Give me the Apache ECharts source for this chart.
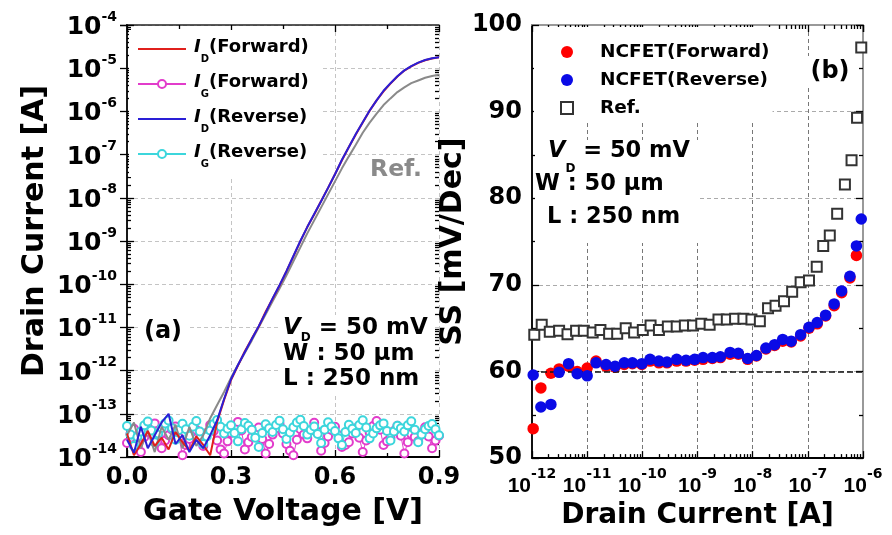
<!DOCTYPE html>
<html><head><meta charset="utf-8">
<script src="https://cdn.jsdelivr.net/npm/echarts@6/dist/echarts.min.js"></script>
<style>html,body{margin:0;padding:0;background:#fff}#c{width:892px;height:535px}</style>
</head><body><div id="c"></div>
<script>
// ---------- Panel (a) data ----------
const gateVoltage = [0.00,0.02,0.04,0.06,0.08,0.10,0.12,0.14,0.16,0.18,0.20,0.22,0.24,0.26,0.28,0.30,0.32,0.34,0.36,0.38,0.40,0.42,0.44,0.46,0.48,0.50,0.52,0.54,0.56,0.58,0.60,0.62,0.64,0.66,0.68,0.70,0.72,0.74,0.76,0.78,0.80,0.82,0.84,0.86,0.88,0.90];
const idForward = [3.5e-14,1.1e-14,2.0e-14,4.0e-14,1.8e-14,2.8e-14,1.5e-14,3.8e-14,2.2e-14,1.4e-14,3.0e-14,1.9e-14,1.1e-14,6.5e-14,2.1e-13,6.0e-13,1.3e-12,2.8e-12,5.5e-12,1.05e-11,2.3e-11,4.6e-11,9.3e-11,2.0e-10,4.4e-10,9.8e-10,2.1e-9,4.1e-9,8.4e-9,1.7e-8,3.5e-8,7.4e-8,1.5e-7,2.9e-7,5.5e-7,1.04e-6,1.8e-6,2.9e-6,4.4e-6,6.4e-6,8.8e-6,1.1e-5,1.33e-5,1.53e-5,1.68e-5,1.8e-5];
const idReverse = [2.5e-14,1.26e-14,5.0e-14,1.6e-14,3.2e-14,6.3e-14,1.0e-13,2.0e-14,3.2e-14,1.3e-14,2.5e-14,1.6e-14,3.2e-14,7.1e-14,2.2e-13,6.3e-13,1.35e-12,2.7e-12,5.4e-12,1.07e-11,2.2e-11,4.7e-11,9.5e-11,2.0e-10,4.5e-10,1.0e-9,2.1e-9,4.2e-9,8.3e-9,1.7e-8,3.5e-8,7.6e-8,1.5e-7,3.0e-7,5.6e-7,1.05e-6,1.8e-6,3.0e-6,4.5e-6,6.5e-6,8.9e-6,1.12e-5,1.35e-5,1.55e-5,1.7e-5,1.8e-5];
const idRef = [3.2e-14,6.3e-14,1.6e-14,4.0e-14,1.3e-14,5.0e-14,2.5e-14,5.6e-14,1.6e-14,5.0e-14,1.8e-14,3.2e-14,7.9e-14,1.6e-13,3.2e-13,6.8e-13,1.35e-12,2.6e-12,5.0e-12,1.0e-11,2.0e-11,4.0e-11,7.9e-11,1.6e-10,3.4e-10,7.1e-10,1.5e-9,3.0e-9,6.0e-9,1.2e-8,2.4e-8,4.8e-8,9.1e-8,1.7e-7,3.2e-7,5.5e-7,8.9e-7,1.4e-6,2.0e-6,2.8e-6,3.6e-6,4.5e-6,5.2e-6,6.0e-6,6.6e-6,7.1e-6];
const gateVoltageIG = [0.00,0.01,0.02,0.03,0.04,0.05,0.06,0.07,0.08,0.09,0.10,0.11,0.12,0.13,0.14,0.15,0.16,0.17,0.18,0.19,0.20,0.21,0.22,0.23,0.24,0.25,0.26,0.27,0.28,0.29,0.30,0.31,0.32,0.33,0.34,0.35,0.36,0.37,0.38,0.39,0.40,0.41,0.42,0.43,0.44,0.45,0.46,0.47,0.48,0.49,0.50,0.51,0.52,0.53,0.54,0.55,0.56,0.57,0.58,0.59,0.60,0.61,0.62,0.63,0.64,0.65,0.66,0.67,0.68,0.69,0.70,0.71,0.72,0.73,0.74,0.75,0.76,0.77,0.78,0.79,0.80,0.81,0.82,0.83,0.84,0.85,0.86,0.87,0.88,0.89,0.90];
const igForward = [2.1e-14,3.4e-14,4.5e-14,2.2e-14,1.3e-14,2.9e-14,3.8e-14,5.2e-14,6.0e-14,3.1e-14,
  1.6e-14,2.4e-14,3.2e-14,4.3e-14,5.1e-14,2.8e-14,1.1e-14,1.9e-14,2.6e-14,3.9e-14,
  4.2e-14,2.7e-14,1.8e-14,3.6e-14,5.5e-14,4.0e-14,2.4e-14,1.5e-14,1.2e-14,2.3e-14,
  3.6e-14,5.0e-14,6.5e-14,4.1e-14,1.5e-14,2.2e-14,2.9e-14,3.7e-14,4.8e-14,2.6e-14,
  1.2e-14,2.0e-14,3.3e-14,4.6e-14,5.8e-14,3.5e-14,2.0e-14,1.4e-14,1.1e-14,2.5e-14,
  4.4e-14,3.3e-14,2.7e-14,4.1e-14,6.2e-14,3.8e-14,1.4e-14,2.1e-14,3.0e-14,4.2e-14,
  5.0e-14,3.2e-14,1.7e-14,1.9e-14,2.2e-14,3.5e-14,4.6e-14,2.8e-14,1.3e-14,2.4e-14,
  3.7e-14,5.2e-14,6.8e-14,4.3e-14,1.9e-14,2.3e-14,2.8e-14,4.0e-14,5.3e-14,3.1e-14,
  1.2e-14,2.2e-14,3.4e-14,2.9e-14,2.3e-14,3.6e-14,4.9e-14,3.0e-14,1.6e-14,2.4e-14,3.1e-14];
const igReverse = [5.2e-14,3.3e-14,1.8e-14,2.9e-14,3.9e-14,5.4e-14,6.6e-14,4.1e-14,2.2e-14,3.5e-14,
  4.7e-14,6.0e-14,7.0e-14,4.6e-14,2.5e-14,4.2e-14,5.9e-14,4.4e-14,3.1e-14,5.0e-14,
  6.8e-14,3.9e-14,2.0e-14,3.0e-14,4.1e-14,5.8e-14,7.2e-14,5.0e-14,3.5e-14,4.5e-14,
  5.4e-14,3.6e-14,2.3e-14,4.4e-14,6.1e-14,5.3e-14,4.3e-14,2.8e-14,1.7e-14,3.6e-14,
  5.7e-14,4.6e-14,3.8e-14,5.5e-14,6.9e-14,4.4e-14,2.6e-14,3.7e-14,4.9e-14,6.3e-14,
  7.3e-14,5.2e-14,3.3e-14,4.2e-14,5.1e-14,3.4e-14,2.1e-14,4.3e-14,6.4e-14,5.1e-14,
  4.0e-14,2.7e-14,1.9e-14,3.8e-14,5.6e-14,4.5e-14,3.6e-14,5.5e-14,7.1e-14,4.8e-14,
  2.7e-14,3.5e-14,4.6e-14,5.4e-14,6.0e-14,4.0e-14,2.4e-14,3.9e-14,5.3e-14,4.6e-14,
  3.9e-14,5.4e-14,6.7e-14,4.3e-14,2.2e-14,3.3e-14,4.4e-14,5.2e-14,5.8e-14,4.4e-14,3.2e-14];
const leftXTickValues = [0, 0.3, 0.6, 0.9];
const leftXTickLabels = ['0.0', '0.3', '0.6', '0.9'];

// ---------- Panel (b) data ----------
const ncfetCurrent = [1.05e-12,1.45e-12,2.2e-12,3.1e-12,4.6e-12,6.6e-12,1.0e-11,1.45e-11,2.2e-11,3.2e-11,4.7e-11,6.6e-11,9.8e-11,1.38e-10,2.0e-10,2.8e-10,4.2e-10,6.2e-10,8.9e-10,1.26e-9,1.86e-9,2.6e-9,3.9e-9,5.5e-9,8.1e-9,1.17e-8,1.74e-8,2.5e-8,3.5e-8,5.0e-8,7.4e-8,1.05e-7,1.48e-7,2.1e-7,3.0e-7,4.1e-7,5.8e-7,7.6e-7,9.3e-7];
const ssForward = [53.4,58.1,59.8,60.3,60.6,60.0,60.4,61.2,60.6,60.5,60.8,60.9,60.8,61.2,61.0,61.0,61.2,61.2,61.3,61.4,61.5,61.6,62.0,62.0,61.4,61.8,62.6,63.0,63.5,63.4,64.1,65.0,65.5,66.4,67.6,69.1,70.8,73.4];
const ssReverse = [59.6,55.9,56.2,59.9,60.9,59.75,59.5,61.0,60.8,60.6,61.0,61.0,60.9,61.4,61.2,61.1,61.4,61.3,61.4,61.6,61.6,61.7,62.2,62.1,61.5,61.85,62.7,63.1,63.7,63.5,64.25,65.1,65.65,66.5,67.8,69.3,71.0,74.5,77.6];
const refCurrent = [1.1e-12,1.5e-12,2.1e-12,3.1e-12,4.4e-12,6.3e-12,8.7e-12,1.26e-11,1.74e-11,2.5e-11,3.5e-11,5.0e-11,7.1e-11,1.02e-10,1.41e-10,2.0e-10,2.9e-10,4.2e-10,5.9e-10,8.3e-10,1.17e-9,1.66e-9,2.4e-9,3.4e-9,4.8e-9,6.8e-9,9.5e-9,1.35e-8,1.9e-8,2.6e-8,3.7e-8,5.2e-8,7.4e-8,1.05e-7,1.45e-7,1.9e-7,2.5e-7,3.4e-7,4.7e-7,6.2e-7,7.8e-7,9.3e-7];
const ssRef = [64.25,65.4,64.6,64.7,64.3,64.7,64.7,64.5,64.8,64.35,64.35,65.0,64.5,64.8,65.3,64.8,65.2,65.2,65.3,65.3,65.5,65.4,66.0,66.0,66.1,66.1,66.0,65.8,67.3,67.6,68.1,69.2,70.3,70.5,72.1,74.5,75.7,78.2,81.6,84.4,89.3,97.4];
const idealSS = 60;

// ---------- helpers ----------
const FONT = 'DejaVu Sans';
function logMinorTicks(eFrom, eTo) {
  const out = [];
  for (let e = eFrom; e < eTo; e++) for (let m = 2; m <= 9; m++) out.push(m * Math.pow(10, e));
  return out;
}
const expLabel = v => '{b|10}{s|' + Math.round(Math.log10(v)) + '}';
const pair = (xs, ys) => ys.map((y, i) => [xs[i], y]);

const tickStyle = {color: '#000', width: 1.3};
const blankAxis = {axisLine: {show: false}, axisLabel: {show: false}, splitLine: {show: false}};

const chart = echarts.init(document.getElementById('c'), null, {renderer: 'canvas'});
chart.setOption({
  animation: false,
  backgroundColor: '#fff',
  grid: [
    {left: 127, top: 25, width: 312, height: 432},
    {left: 532, top: 25, width: 331, height: 438}
  ],
  xAxis: [
    { // 0: left bottom
      gridIndex: 0, type: 'value', min: 0, max: 0.9, interval: 0.3, position: 'bottom',
      axisLine: {lineStyle: {color: '#000', width: 2}},
      axisTick: {inside: true, length: 7, lineStyle: tickStyle},
      minorTick: {show: true, splitNumber: 2, length: 4, lineStyle: tickStyle},
      splitLine: {show: true, lineStyle: {color: '#c4c4c4', type: [4, 3], width: 1}},
      axisLabel: {margin: 9, color: '#000', fontFamily: FONT, fontWeight: 'bold', fontSize: 24,
        formatter: v => leftXTickLabels[leftXTickValues.findIndex(t => Math.abs(t - v) < 1e-6)] || ''},
      name: 'Gate Voltage [V]', nameLocation: 'middle', nameGap: 40,
      nameTextStyle: {color: '#000', fontFamily: FONT, fontWeight: 'bold', fontSize: 30}
    },
    { // 1: left top
      gridIndex: 0, type: 'value', min: 0, max: 0.9, interval: 0.3, position: 'top',
      axisLine: {lineStyle: {color: '#222', width: 1.5}},
      axisTick: {inside: true, length: 7, lineStyle: tickStyle},
      minorTick: {show: true, splitNumber: 2, length: 4, lineStyle: tickStyle},
      axisLabel: {show: false}, splitLine: {show: false}
    },
    { // 2: right bottom
      gridIndex: 1, type: 'log', logBase: 10, min: 1e-12, max: 1e-6, splitNumber: 6, position: 'bottom',
      axisLine: {lineStyle: {color: '#000', width: 2}},
      axisTick: {inside: true, length: 7, lineStyle: tickStyle},
      splitLine: {show: true, lineStyle: {color: '#777', type: [4, 3], width: 1}},
      axisLabel: {margin: 9, formatter: expLabel, rich: {
        b: {fontFamily: 'Liberation Sans', fontWeight: 'bold', fontSize: 21, lineHeight: 30, verticalAlign: 'bottom', color: '#000'},
        s: {fontFamily: FONT, fontWeight: 'bold', fontSize: 14, lineHeight: 16, verticalAlign: 'top', color: '#000'}}},
      name: 'Drain Current [A]', nameLocation: 'middle', nameGap: 36,
      nameTextStyle: {color: '#000', fontFamily: FONT, fontWeight: 'bold', fontSize: 28}
    },
    { // 3: right top
      gridIndex: 1, type: 'log', logBase: 10, min: 1e-12, max: 1e-6, splitNumber: 6, position: 'top',
      axisLine: {lineStyle: {color: '#999', width: 2}},
      axisTick: {inside: true, length: 7, lineStyle: tickStyle},
      axisLabel: {show: false}, splitLine: {show: false}
    },
    Object.assign({ // 4: right bottom minor
      gridIndex: 1, type: 'log', logBase: 10, min: 1e-12, max: 1e-6, position: 'bottom',
      axisTick: {show: true, inside: true, length: 4, lineStyle: tickStyle, customValues: logMinorTicks(-12, -6)}
    }, blankAxis),
    Object.assign({ // 5: right top minor
      gridIndex: 1, type: 'log', logBase: 10, min: 1e-12, max: 1e-6, position: 'top',
      axisTick: {show: true, inside: true, length: 4, lineStyle: tickStyle, customValues: logMinorTicks(-12, -6)}
    }, blankAxis)
  ],
  yAxis: [
    { // 0: left-left
      gridIndex: 0, type: 'log', logBase: 10, min: 1e-14, max: 1e-4, interval: 1, splitNumber: 10, position: 'left',
      axisLine: {show: true, lineStyle: {color: '#000', width: 2}},
      axisTick: {show: true, inside: true, length: 7, lineStyle: tickStyle},
      splitLine: {show: true, lineStyle: {color: '#c4c4c4', type: [4, 3], width: 1}},
      axisLabel: {margin: 10, formatter: expLabel, rich: {
        b: {fontFamily: FONT, fontWeight: 'bold', fontSize: 25, lineHeight: 30, verticalAlign: 'bottom', color: '#000'},
        s: {fontFamily: FONT, fontWeight: 'bold', fontSize: 14, lineHeight: 16, verticalAlign: 'top', color: '#000'}}},
      name: 'Drain Current [A]', nameLocation: 'middle', nameGap: 77,
      nameTextStyle: {color: '#000', fontFamily: FONT, fontWeight: 'bold', fontSize: 30, padding: [0, 0, 0, 20]}
    },
    { // 1: left-right
      gridIndex: 0, type: 'log', logBase: 10, min: 1e-14, max: 1e-4, interval: 1, splitNumber: 10, position: 'right',
      axisLine: {show: true, lineStyle: {color: '#222', width: 1.5}},
      axisTick: {show: true, inside: true, length: 7, lineStyle: tickStyle},
      axisLabel: {show: false}, splitLine: {show: false}
    },
    Object.assign({ // 2: left minor
      gridIndex: 0, type: 'log', logBase: 10, min: 1e-14, max: 1e-4, position: 'left',
      axisTick: {show: true, inside: true, length: 4, lineStyle: tickStyle, customValues: logMinorTicks(-14, -4)}
    }, blankAxis),
    Object.assign({ // 3: right minor
      gridIndex: 0, type: 'log', logBase: 10, min: 1e-14, max: 1e-4, position: 'right',
      axisTick: {show: true, inside: true, length: 4, lineStyle: tickStyle, customValues: logMinorTicks(-14, -4)}
    }, blankAxis),
    { // 4: SS left
      gridIndex: 1, type: 'value', min: 50, max: 100, interval: 10, position: 'left',
      axisLine: {show: true, lineStyle: {color: '#111', width: 2}},
      axisTick: {show: true, inside: true, length: 7, lineStyle: tickStyle},
      minorTick: {show: true, splitNumber: 2, length: 4, lineStyle: tickStyle},
      splitLine: {show: true, lineStyle: {color: '#aaa', type: [4, 3], width: 1}},
      axisLabel: {margin: 10, color: '#000', fontFamily: FONT, fontWeight: 'bold', fontSize: 24},
      name: 'SS [mV/Dec]', nameLocation: 'middle', nameGap: 52,
      nameTextStyle: {color: '#000', fontFamily: FONT, fontWeight: 'bold', fontSize: 30}
    },
    { // 5: SS right
      gridIndex: 1, type: 'value', min: 50, max: 100, interval: 10, position: 'right',
      axisLine: {show: true, lineStyle: {color: '#999', width: 2}},
      axisTick: {show: true, inside: true, length: 7, lineStyle: tickStyle},
      minorTick: {show: true, splitNumber: 2, length: 4, lineStyle: tickStyle},
      axisLabel: {show: false}, splitLine: {show: false}
    }
  ],
  legend: [
    {
      data: [
        {name: 'ID(Forward)', itemStyle: {opacity: 0}},
        {name: 'IG(Forward)'},
        {name: 'ID(Reverse)', itemStyle: {opacity: 0}},
        {name: 'IG(Reverse)'}
      ],
      orient: 'vertical', left: 129, top: 30, padding: [8, 12, 8, 8],
      itemWidth: 48, itemHeight: 10, itemGap: 9, backgroundColor: '#fff',
      formatter: n => '{i|I}{sub|' + n.charAt(1) + '}{t|' + n.slice(2) + '}',
      textStyle: {padding: [0, 0, 0, 3], rich: {
        i: {fontFamily: FONT, fontStyle: 'italic', fontWeight: 'bold', fontSize: 18, lineHeight: 22, verticalAlign: 'top', color: '#000'},
        sub: {fontFamily: FONT, fontWeight: 'bold', fontSize: 10, lineHeight: 10, padding: [16, 0, 0, 0], verticalAlign: 'top', color: '#000'},
        t: {fontFamily: FONT, fontWeight: 'bold', fontSize: 18, lineHeight: 22, verticalAlign: 'top', color: '#000'}
      }}
    },
    {
      data: ['NCFET(Forward)', 'NCFET(Reverse)', 'Ref.'],
      orient: 'vertical', left: 534, top: 27, padding: [14, 3, 2, 26],
      itemWidth: 12, itemHeight: 12, itemGap: 6, backgroundColor: '#fff',
      textStyle: {fontFamily: FONT, fontWeight: 'bold', fontSize: 18.5, lineHeight: 22, color: '#000', padding: [0, 0, 0, 22]}
    }
  ],
  series: [
    {name: 'IG(Forward)', type: 'line', xAxisIndex: 0, yAxisIndex: 0, data: pair(gateVoltageIG, igForward),
      symbol: 'emptyCircle', symbolSize: 8, lineStyle: {color: '#e23ccb', width: 1}, itemStyle: {color: '#e23ccb', borderWidth: 1}, z: 2},
    {name: 'IG(Reverse)', type: 'line', xAxisIndex: 0, yAxisIndex: 0, data: pair(gateVoltageIG, igReverse),
      symbol: 'emptyCircle', symbolSize: 8, lineStyle: {color: '#3cd6dc', width: 1}, itemStyle: {color: '#3cd6dc', borderWidth: 1}, z: 2},
    {name: 'Ref', type: 'line', xAxisIndex: 0, yAxisIndex: 0, data: pair(gateVoltage, idRef),
      symbol: 'none', lineStyle: {color: '#8a8a8a', width: 2}, z: 3},
    {name: 'ID(Forward)', type: 'line', xAxisIndex: 0, yAxisIndex: 0, data: pair(gateVoltage, idForward),
      symbol: 'none', lineStyle: {color: '#e0201c', width: 2}, itemStyle: {color: '#e0201c'}, z: 3},
    {name: 'ID(Reverse)', type: 'line', xAxisIndex: 0, yAxisIndex: 0, data: pair(gateVoltage, idReverse),
      symbol: 'none', lineStyle: {color: '#2a1fd6', width: 2}, itemStyle: {color: '#2a1fd6'}, z: 4},
    {name: 'Ref.', type: 'scatter', xAxisIndex: 2, yAxisIndex: 4, data: pair(refCurrent, ssRef),
      symbol: 'emptyRect', symbolSize: 10, itemStyle: {color: '#333', borderWidth: 1.2, opacity: 1}, z: 3},
    {name: 'NCFET(Forward)', type: 'scatter', xAxisIndex: 2, yAxisIndex: 4, data: pair(ncfetCurrent, ssForward),
      symbol: 'circle', symbolSize: 11.5, itemStyle: {color: '#ff0000', opacity: 1}, z: 4,
      markLine: {silent: true, symbol: 'none', label: {show: false},
        lineStyle: {color: '#111', type: [6, 3], width: 1.5}, data: [{yAxis: idealSS}]}},
    {name: 'NCFET(Reverse)', type: 'scatter', xAxisIndex: 2, yAxisIndex: 4, data: pair(ncfetCurrent, ssReverse),
      symbol: 'circle', symbolSize: 11.5, itemStyle: {color: '#0a0ae6', opacity: 1}, z: 5}
  ],
  graphic: {elements: [
    {type: 'text', x: 163, y: 332, z: 10, style: {text: '(a)', fill: '#000', fontFamily: FONT, fontWeight: 'bold', fontSize: 24,
      align: 'center', verticalAlign: 'middle', textAlign: 'center', textVerticalAlign: 'middle', backgroundColor: '#fff', padding: [3, 5]}},
    {type: 'text', x: 396, y: 170, z: 10, style: {text: 'Ref.', fill: '#8a8a8a', fontFamily: FONT, fontWeight: 'bold', fontSize: 23.5,
      align: 'center', verticalAlign: 'middle', textAlign: 'center', textVerticalAlign: 'middle'}},
    {type: 'text', x: 830, y: 72, z: 10, style: {text: '(b)', fill: '#000', fontFamily: FONT, fontWeight: 'bold', fontSize: 24,
      align: 'center', verticalAlign: 'middle', textAlign: 'center', textVerticalAlign: 'middle', backgroundColor: '#fff', padding: [4, 6]}},
    {type: 'text', x: 281, y: 315, z: 10, style: {
      text: '{vi|V}{sd|D}{t| = 50 mV}\n{t|W : 50 μm}\n{t|L : 250 nm}',
      align: 'left', verticalAlign: 'top', textAlign: 'left', textVerticalAlign: 'top', backgroundColor: '#fff', padding: [2, 6, 2, 2],
      rich: {
        vi: {fontFamily: FONT, fontStyle: 'italic', fontWeight: 'bold', fontSize: 23, lineHeight: 25.5, verticalAlign: 'top', fill: '#000', color: '#000'},
        sd: {fontFamily: FONT, fontWeight: 'bold', fontSize: 12, lineHeight: 12, padding: [15, 0, 11.5, 0], verticalAlign: 'top', fill: '#000', color: '#000'},
        t: {fontFamily: FONT, fontWeight: 'bold', fontSize: 23, lineHeight: 25.5, verticalAlign: 'top', fill: '#000', color: '#000'}
      }}},
    {type: 'text', x: 535, y: 140, z: 10, style: {
      text: '{vi|V}{sd|D}{t| = 50 mV}\n{t|W : 50 μm}\n{tl|L : 250 nm}',
      align: 'left', verticalAlign: 'top', textAlign: 'left', textVerticalAlign: 'top', backgroundColor: '#fff', padding: [0, 10, 4, 0],
      rich: {
        vi: {fontFamily: FONT, fontStyle: 'italic', fontWeight: 'bold', fontSize: 22.5, lineHeight: 33, verticalAlign: 'top', padding: [0, 0, 0, 13], fill: '#000', color: '#000'},
        sd: {fontFamily: FONT, fontWeight: 'bold', fontSize: 12, lineHeight: 12, padding: [22.5, 0, 7.5, 0], verticalAlign: 'top', fill: '#000', color: '#000'},
        t: {fontFamily: FONT, fontWeight: 'bold', fontSize: 22.5, lineHeight: 33, verticalAlign: 'top', fill: '#000', color: '#000'},
        tl: {fontFamily: FONT, fontWeight: 'bold', fontSize: 22.5, lineHeight: 33, verticalAlign: 'top', padding: [0, 0, 0, 12], fill: '#000', color: '#000'}
      }}}
  ]}
});
</script>
</body></html>
